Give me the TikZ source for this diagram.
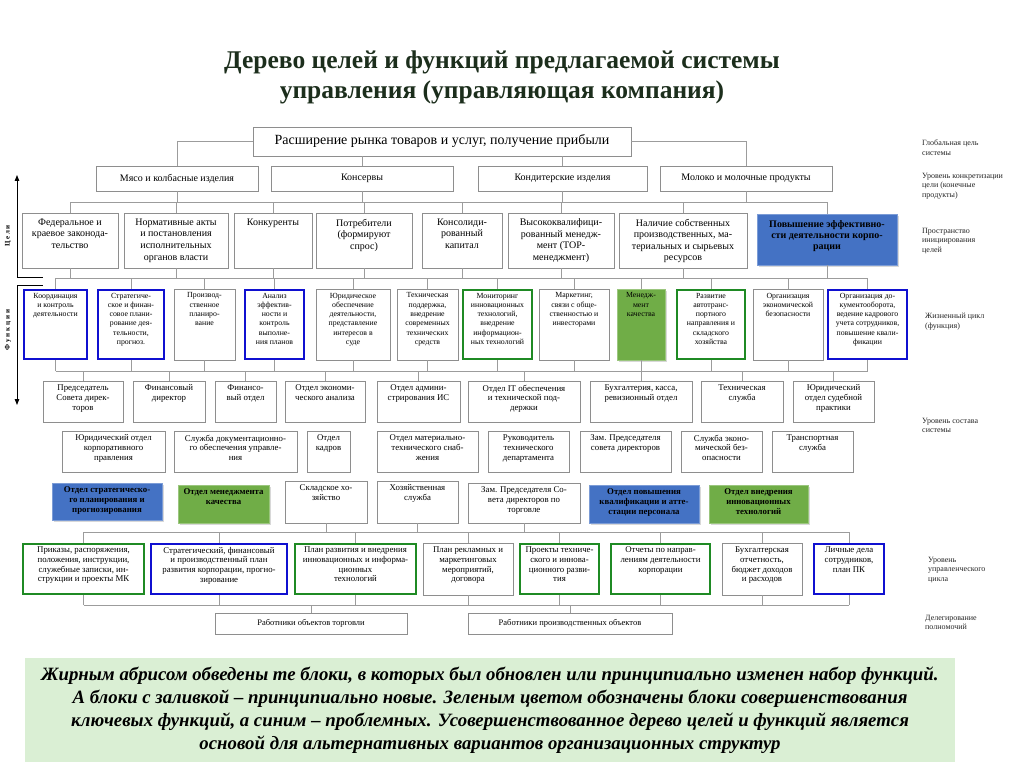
\documentclass[tikz,border=0pt]{standalone}
\usepackage{fontspec}
\setmainfont{Liberation Serif}
\usetikzlibrary{arrows.meta, shadows}
\definecolor{tgGray}{HTML}{8E8E8E}
\definecolor{tgLine}{HTML}{9C9C9C}
\definecolor{tgBlue}{HTML}{1010D0}
\definecolor{tgGreen}{HTML}{1F8A24}
\definecolor{tgFillBlue}{HTML}{4472C4}
\definecolor{tgFillGreen}{HTML}{70AD47}
\definecolor{tgNote}{HTML}{DAEFD4}
\definecolor{tgTitle}{HTML}{1C2E1C}
\newcommand{\fTitle}{\fontsize{25.5}{30}\selectfont\bfseries}
\newcommand{\fGoal}{\fontsize{14}{16}\selectfont}
\newcommand{\fProd}{\fontsize{10}{12}\selectfont}
\newcommand{\fSpace}{\fontsize{10}{11.6}\selectfont}
\newcommand{\fFunc}{\fontsize{7.8}{9.3}\selectfont}
\newcommand{\fUnit}{\fontsize{8.8}{9.7}\selectfont}
\newcommand{\fSide}{\fontsize{8}{9.5}\selectfont}
\newcommand{\fNote}{\fontsize{18.8}{23}\selectfont\bfseries\itshape}
\tikzset{
  tgnode/.style={draw=tgGray, line width=0.7pt, fill=white, inner sep=1pt},
  sz/.style 2 args={minimum width=#1, minimum height=#2},
  inl/.style={anchor=north, align=center, inner sep=1pt, yshift=-3pt, text=black},
  t3/.style={label={[inl, font=\fSpace, yshift=-2pt]north:{#1}}},
  tf/.style={label={[inl, font=\fFunc]north:{#1}}},
  tu/.style={label={[inl, font=\fUnit]north:{#1}}},
  tb/.style={label={[inl, font=\fUnit\bfseries]north:{#1}}},
  blueframe/.style={tgnode, draw=tgBlue, line width=2.6pt},
  greenframe/.style={tgnode, draw=tgGreen, line width=2.6pt},
  bluefill/.style={tgnode, draw=tgFillBlue!70!white, fill=tgFillBlue,
    drop shadow={shadow xshift=2pt, shadow yshift=-2pt, fill=black!30}},
  greenfill/.style={tgnode, draw=tgFillGreen!70!white, fill=tgFillGreen,
    drop shadow={shadow xshift=2pt, shadow yshift=-2pt, fill=black!30}},
  link/.style={draw=tgLine, line width=0.7pt},
  axisline/.style={-{Triangle[length=6pt, width=4.5pt]}, line width=0.9pt, black},
  tickline/.style={line width=0.9pt, black},
  vlabel/.style={font=\fontsize{7}{8}\selectfont\bfseries, rotate=90, inner sep=0pt},
  sidelabel/.style={font=\fSide, align=left, anchor=north west, inner sep=0pt, text=black!85},
  notebox/.style={fill=tgNote, minimum width=930, minimum height=104, align=center,
    font=\fNote, inner sep=0pt}
}
\begin{document}
\begin{tikzpicture}[x=1pt, y=-1pt]
  \path[fill=white, use as bounding box] (0,0) rectangle (1024,767);
  \node[font=\fTitle, text=tgTitle, align=center] (title) at (502,77)
    {Дерево целей и функций предлагаемой системы\\управления (управляющая компания)};

  % global goal and products
  \node[tgnode, sz={378}{29}, font=\fGoal] (goal) at (442,141.5) {Расширение рынка товаров и услуг, получение прибыли};
  \node[tgnode, sz={162}{25}, font=\fProd] (meat) at (177,178.5) {Мясо и колбасные изделия};
  \node[tgnode, sz={182}{25}, font=\fProd] (cans) at (362,178.5) {Консервы};
  \node[tgnode, sz={169}{25}, font=\fProd] (conf) at (562.5,178.5) {Кондитерские изделия};
  \node[tgnode, sz={172}{25}, font=\fProd] (milk) at (746,178.5) {Молоко и молочные продукты};

  % goal space
  \node[tgnode, sz={96}{55}, t3={Федеральное и\\краевое законода-\\тельство}] (fed) at (70,240.5) {};
  \node[tgnode, sz={104}{55}, t3={Нормативные акты\\и постановления\\исполнительных\\органов власти}] (norm) at (176,240.5) {};
  \node[tgnode, sz={78}{55}, t3={Конкуренты}] (comp) at (273,240.5) {};
  \node[tgnode, sz={96}{55}, t3={Потребители\\(формируют\\спрос)}] (cons) at (364,240.5) {};
  \node[tgnode, sz={80}{55}, t3={Консолиди-\\рованный\\капитал}] (capit) at (462,240.5) {};
  \node[tgnode, sz={106}{55}, t3={Высококвалифици-\\рованный менедж-\\мент (ТОР-\\менеджмент)}] (mgmt) at (561,240.5) {};
  \node[tgnode, sz={128}{55}, t3={Наличие собственных\\производственных, ма-\\териальных и сырьевых\\ресурсов}] (res) at (683,240.5) {};
  \node[bluefill, sz={140}{51}, label={[inl, font=\fontsize{10}{11}\selectfont\bfseries, yshift=-3pt]north:{Повышение эффективно-\\сти деятельности корпо-\\рации}}] (eff) at (827,239.5) {};

  % functions
  \node[blueframe, sz={63}{69}, tf={Координация\\и контроль\\деятельности}] (coord) at (55.5,324.5) {};
  \node[blueframe, sz={66}{69}, tf={Стратегиче-\\ское и финан-\\совое плани-\\рование дея-\\тельности,\\прогноз.}] (strat) at (131,324.5) {};
  \node[tgnode, sz={61}{71}, tf={Производ-\\ственное\\планиро-\\вание}] (prodpl) at (204.5,324.5) {};
  \node[blueframe, sz={59}{69}, tf={Анализ\\эффектив-\\ности и\\контроль\\выполне-\\ния планов}] (anal) at (274.5,324.5) {};
  \node[tgnode, sz={74}{71}, tf={Юридическое\\обеспечение\\деятельности,\\представление\\интересов в\\суде}] (legal) at (353,324.5) {};
  \node[tgnode, sz={61}{71}, tf={Техническая\\поддержка,\\внедрение\\современных\\технических\\средств}] (tech) at (427.5,324.5) {};
  \node[greenframe, sz={69}{69}, tf={Мониторинг\\инновационных\\технологий,\\внедрение\\информацион-\\ных технологий}] (monit) at (497.5,324.5) {};
  \node[tgnode, sz={70}{71}, tf={Маркетинг,\\связи с обще-\\ственностью и\\инвесторами}] (mark) at (574,324.5) {};
  \node[greenfill, sz={48}{71}, tf={Менедж-\\мент\\качества}] (qual) at (641,324.5) {};
  \node[greenframe, sz={68}{69}, tf={Развитие\\автотранс-\\портного\\направления и\\складского\\хозяйства}] (auto) at (711,324.5) {};
  \node[tgnode, sz={70}{71}, tf={Организация\\экономической\\безопасности}] (econ) at (788,324.5) {};
  \node[blueframe, sz={79}{69}, tf={Организация до-\\кументооборота,\\ведение кадрового\\учета сотрудников,\\повышение квали-\\фикации}] (docs) at (867.5,324.5) {};

  % system units
  \node[tgnode, sz={80}{41}, tu={Председатель\\Совета дирек-\\торов}] (chair) at (83,401.5) {};
  \node[tgnode, sz={72}{41}, tu={Финансовый\\директор}] (findir) at (169,401.5) {};
  \node[tgnode, sz={61}{41}, tu={Финансо-\\вый отдел}] (findep) at (245.5,401.5) {};
  \node[tgnode, sz={80}{41}, tu={Отдел экономи-\\ческого анализа}] (ecan) at (325,401.5) {};
  \node[tgnode, sz={83}{41}, tu={Отдел админи-\\стрирования ИС}] (isadm) at (418.5,401.5) {};
  \node[tgnode, sz={112}{41}, tu={Отдел IT обеспечения\\и технической под-\\держки}] (itsup) at (524,401.5) {};
  \node[tgnode, sz={102}{41}, tu={Бухгалтерия, касса,\\ревизионный отдел}] (acct) at (641,401.5) {};
  \node[tgnode, sz={82}{41}, tu={Техническая\\служба}] (techsv) at (742,401.5) {};
  \node[tgnode, sz={81}{41}, tu={Юридический\\отдел судебной\\практики}] (courts) at (833.5,401.5) {};

  \node[tgnode, sz={103}{41}, tu={Юридический отдел\\корпоративного\\правления}] (corplaw) at (113.5,451.5) {};
  \node[tgnode, sz={123}{41}, tu={Служба документационно-\\го обеспечения управле-\\ния}] (docsv) at (235.5,451.5) {};
  \node[tgnode, sz={43}{41}, tu={Отдел\\кадров}] (hr) at (328.5,451.5) {};
  \node[tgnode, sz={101}{41}, tu={Отдел материально-\\технического снаб-\\жения}] (supply) at (427.5,451.5) {};
  \node[tgnode, sz={81}{41}, tu={Руководитель\\технического\\департамента}] (techhead) at (528.5,451.5) {};
  \node[tgnode, sz={91}{41}, tu={Зам. Председателя\\совета директоров}] (vice) at (625.5,451.5) {};
  \node[tgnode, sz={81}{41}, tu={Служба эконо-\\мической без-\\опасности}] (secur) at (721.5,451.5) {};
  \node[tgnode, sz={81}{41}, tu={Транспортная\\служба}] (transp) at (812.5,451.5) {};

  \node[bluefill, sz={110}{37}, tb={Отдел стратегическо-\\го планирования и\\прогнозирования}] (stratdep) at (107,501.5) {};
  \node[greenfill, sz={91}{38}, tb={Отдел менеджмента\\качества}] (qualdep) at (223.5,504) {};
  \node[tgnode, sz={82}{42}, tu={Складское хо-\\зяйство}] (store) at (326,502) {};
  \node[tgnode, sz={81}{42}, tu={Хозяйственная\\служба}] (house) at (417.5,502) {};
  \node[tgnode, sz={112}{40}, tu={Зам. Председателя Со-\\вета директоров по\\торговле}] (vicetr) at (524,503) {};
  \node[bluefill, sz={110}{38}, tb={Отдел повышения\\квалификации и атте-\\стации персонала}] (traindep) at (644,504) {};
  \node[greenfill, sz={99}{38}, tb={Отдел внедрения\\инновационных\\технологий}] (innovdep) at (758.5,504) {};

  % management cycle
  \node[greenframe, sz={121}{50}, tu={Приказы, распоряжения,\\положения, инструкции,\\служебные записки, ин-\\струкции и проекты МК}] (orders) at (83.5,569) {};
  \node[blueframe, sz={136}{50}, tu={Стратегический, финансовый\\и производственный план\\развития корпорации, прогно-\\зирование}] (plans) at (219,569) {};
  \node[greenframe, sz={121}{50}, tu={План развития и внедрения\\инновационных и информа-\\ционных\\технологий}] (itplan) at (355.5,569) {};
  \node[tgnode, sz={90}{52}, tu={План рекламных и\\маркетинговых\\мероприятий,\\договора}] (adv) at (468,569) {};
  \node[greenframe, sz={79}{50}, tu={Проекты техниче-\\ского и иннова-\\ционного разви-\\тия}] (projects) at (559.5,569) {};
  \node[greenframe, sz={99}{50}, tu={Отчеты по направ-\\лениям деятельности\\корпорации}] (reports) at (660.5,569) {};
  \node[tgnode, sz={80}{52}, tu={Бухгалтерская\\отчетность,\\бюджет доходов\\и расходов}] (budget) at (762,569) {};
  \node[blueframe, sz={70}{50}, tu={Личные дела\\сотрудников,\\план ПК}] (files) at (849,569) {};

  % delegation
  \node[tgnode, sz={192}{21}, font=\fontsize{8.5}{10}\selectfont] (trade) at (311,623.5) {Работники объектов торговли};
  \node[tgnode, sz={204}{21}, font=\fontsize{8.5}{10}\selectfont] (prodw) at (570,623.5) {Работники производственных объектов};

  % connectors
  \coordinate (b1) at (0,202);
  \coordinate (b2) at (0,278);
  \coordinate (b3) at (0,371);
  \coordinate (b4) at (0,532);
  \coordinate (b5) at (0,605);
  \draw[link] (goal.west) -| (meat.north);
  \draw[link] (goal.east) -| (milk.north);
  \foreach \n in {cans,conf}
    \draw[link] (goal.south -| \n.north) -- (\n.north);
  \draw[link] (fed.north |- b1) -- (eff.north |- b1);
  \foreach \n in {meat,cans,conf,milk}
    \draw[link] (\n.south) -- (\n.south |- b1);
  \foreach \n in {fed,norm,comp,cons,capit,mgmt,res,eff}
    \draw[link] (\n.north) -- (\n.north |- b1);
  \draw[link] (coord.north |- b2) -- (docs.north |- b2);
  \foreach \n in {fed,norm,comp,cons,capit,mgmt,res,eff}
    \draw[link] (\n.south) -- (\n.south |- b2);
  \foreach \n in {coord,strat,prodpl,anal,legal,tech,monit,mark,qual,auto,econ,docs}
    \draw[link] (\n.north) -- (\n.north |- b2);
  \draw[link] (coord.south |- b3) -- (docs.south |- b3);
  \foreach \n in {coord,strat,prodpl,anal,legal,tech,monit,mark,qual,auto,econ,docs}
    \draw[link] (\n.south) -- (\n.south |- b3);
  \foreach \n in {chair,findir,findep,ecan,isadm,itsup,acct,techsv,courts}
    \draw[link] (\n.north) -- (\n.north |- b3);
  \draw[link] (orders.north |- b4) -- (files.north |- b4);
  \foreach \n in {store,house,vicetr}
    \draw[link] (\n.south) -- (\n.south |- b4);
  \foreach \n in {orders,plans,itplan,adv,projects,reports,budget,files}
    \draw[link] (\n.north) -- (\n.north |- b4);
  \draw[link] (orders.south |- b5) -- (files.south |- b5);
  \foreach \n in {orders,plans,itplan,adv,projects,reports,budget,files}
    \draw[link] (\n.south) -- (\n.south |- b5);
  \foreach \n in {trade,prodw}
    \draw[link] (\n.north) -- (\n.north |- b5);

  % goals / functions arrows
  \coordinate (goalsBase) at (17,277);
  \coordinate (goalsTip) at (17,175);
  \coordinate (goalsTick) at (43,277);
  \coordinate (funcBase) at (17,285);
  \coordinate (funcTip) at (17,405);
  \coordinate (funcTick) at (43,285);
  \draw[axisline] (goalsBase) -- (goalsTip);
  \draw[tickline] (goalsBase) -- (goalsTick);
  \draw[axisline] (funcBase) -- (funcTip);
  \draw[tickline] (funcBase) -- (funcTick);
  \node[vlabel] (goalsLbl) at (8,236) {Ц е л и};
  \node[vlabel] (funcLbl) at (8,330) {Ф у н к ц и и};

  % levels on the right
  \node[sidelabel] (lvGlobal) at (922,140) {Глобальная цель\\системы};
  \node[sidelabel] (lvProd) at (922,173) {Уровень конкретизации\\цели (конечные\\продукты)};
  \node[sidelabel] (lvSpace) at (922,228) {Пространство\\инициирования\\целей};
  \node[sidelabel] (lvLife) at (925,313) {Жизненный цикл\\(функция)};
  \node[sidelabel] (lvUnits) at (922,418) {Уровень состава\\системы};
  \node[sidelabel] (lvCycle) at (928,557) {Уровень\\управленческого\\цикла};
  \node[sidelabel] (lvDeleg) at (925,615) {Делегирование\\полномочий};

  % note
  \node[notebox] (note) at (490,710) {Жирным абрисом обведены те блоки, в которых был обновлен или принципиально изменен набор функций.\\А блоки с заливкой – принципиально новые. Зеленым цветом обозначены блоки совершенствования\\ключевых функций, а синим – проблемных. Усовершенствованное дерево целей и функций является\\основой для альтернативных вариантов организационных структур};
\end{tikzpicture}
\end{document}
